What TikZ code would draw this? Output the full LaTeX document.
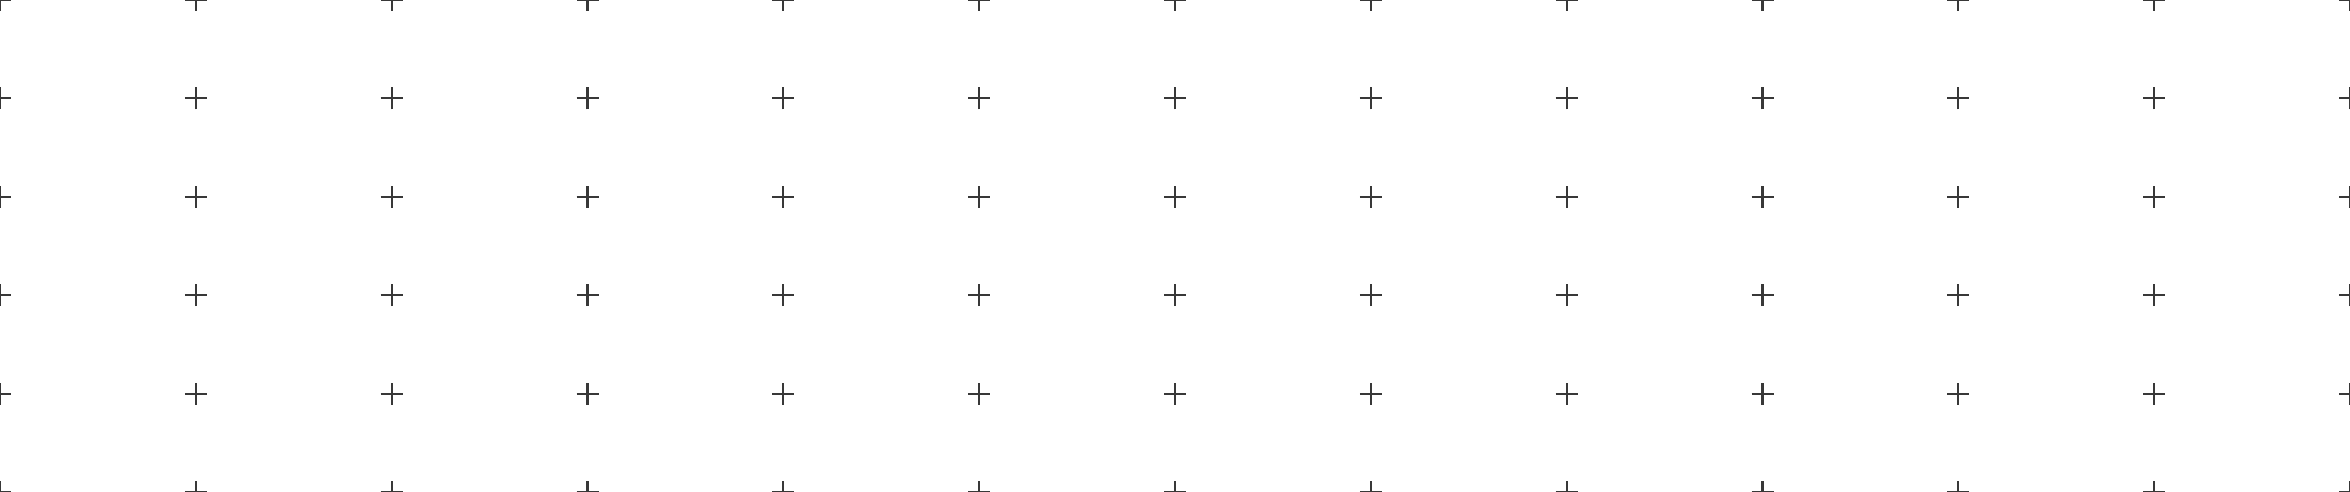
\documentclass[tikz,border=0pt]{standalone}
\usepackage{tikz}
\def\crossmark[#1](#2,#3)(#4){\draw[#1] (#2-#4, #3) -- (#2+#4, #3); \draw[#1] (#2, #3-#4) -- (#2, #3+#4);}

\begin{document}
\begin{tikzpicture}
		%%%%% START %%%%%
		
		\useasboundingbox (0, 0) rectangle (23.5, 4.92);
		\clip (0, 0) rectangle (23.5, 4.92);
		
		\foreach \i in {0,...,12} {
			\foreach \j in {0,...,5} {
				\crossmark[line width=0.6pt, color=black!78](\i*1.95833, \j*0.984)(0.11);
			}
		}
		
		%%%%% END %%%%%
	\end{tikzpicture}
\end{document}
